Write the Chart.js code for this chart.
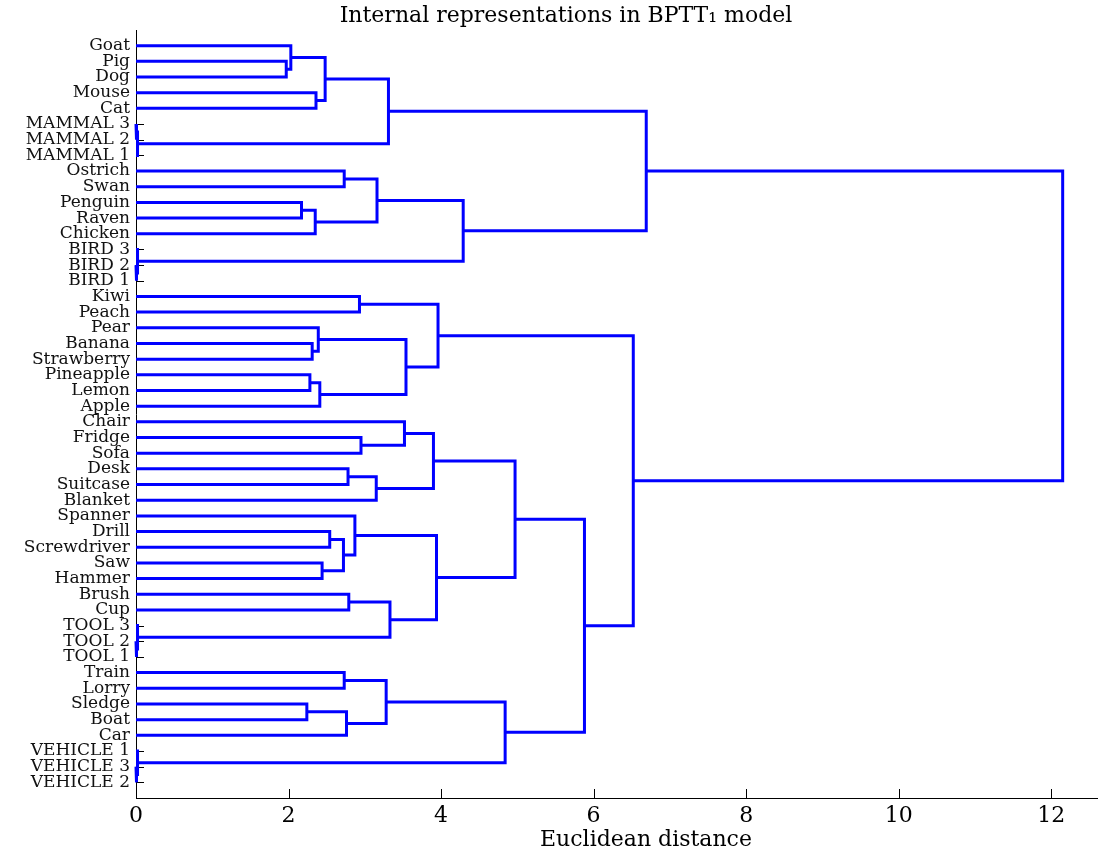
<!DOCTYPE html>
<html>
<head>
<meta charset="utf-8">
<script src="https://cdn.jsdelivr.net/npm/chart.js@4.4.0/dist/chart.umd.min.js"></script>
<style>
  html, body { margin: 0; padding: 0; background: #fff; }
  #wrap { width: 1099px; height: 854px; position: relative; }
</style>
</head>
<body>
<div id="wrap"><canvas id="c"></canvas></div>
<script>
// leaf order, top to bottom
const leaves = [
  'Goat', 'Pig', 'Dog', 'Mouse', 'Cat', 'MAMMAL 3', 'MAMMAL 2', 'MAMMAL 1',
  'Ostrich', 'Swan', 'Penguin', 'Raven', 'Chicken', 'BIRD 3', 'BIRD 2', 'BIRD 1',
  'Kiwi', 'Peach', 'Pear', 'Banana', 'Strawberry', 'Pineapple', 'Lemon', 'Apple',
  'Chair', 'Fridge', 'Sofa', 'Desk', 'Suitcase', 'Blanket',
  'Spanner', 'Drill', 'Screwdriver', 'Saw', 'Hammer', 'Brush', 'Cup', 'TOOL 3', 'TOOL 2', 'TOOL 1',
  'Train', 'Lorry', 'Sledge', 'Boat', 'Car', 'VEHICLE 1', 'VEHICLE 3', 'VEHICLE 2'
];

// merges: [left, right, distance]; a string is a leaf, a number is an earlier merge
const merges = [
  ['Pig', 'Dog', 1.97],            // 0
  ['Goat', 0, 2.03],               // 1
  ['Mouse', 'Cat', 2.36],          // 2
  [1, 2, 2.48],                    // 3
  ['MAMMAL 3', 'MAMMAL 2', 0.01],  // 4
  [4, 'MAMMAL 1', 0.02],           // 5
  [3, 5, 3.31],                    // 6
  ['Ostrich', 'Swan', 2.73],       // 7
  ['Penguin', 'Raven', 2.17],      // 8
  [8, 'Chicken', 2.35],            // 9
  [7, 9, 3.16],                    // 10
  ['BIRD 2', 'BIRD 1', 0.01],      // 11
  ['BIRD 3', 11, 0.02],            // 12
  [10, 12, 4.29],                  // 13
  [6, 13, 6.69],                   // 14
  ['Kiwi', 'Peach', 2.93],         // 15
  ['Banana', 'Strawberry', 2.31],  // 16
  ['Pear', 16, 2.39],              // 17
  ['Pineapple', 'Lemon', 2.28],    // 18
  [18, 'Apple', 2.41],             // 19
  [17, 19, 3.54],                  // 20
  [15, 20, 3.96],                  // 21
  ['Fridge', 'Sofa', 2.95],        // 22
  ['Chair', 22, 3.52],             // 23
  ['Desk', 'Suitcase', 2.78],      // 24
  [24, 'Blanket', 3.15],           // 25
  [23, 25, 3.90],                  // 26
  ['Drill', 'Screwdriver', 2.54],  // 27
  ['Saw', 'Hammer', 2.44],         // 28
  [27, 28, 2.72],                  // 29
  ['Spanner', 29, 2.87],           // 30
  ['Brush', 'Cup', 2.79],          // 31
  ['TOOL 2', 'TOOL 1', 0.01],      // 32
  ['TOOL 3', 32, 0.02],            // 33
  [31, 33, 3.33],                  // 34
  [30, 34, 3.94],                  // 35
  [26, 35, 4.97],                  // 36
  ['Train', 'Lorry', 2.73],        // 37
  ['Sledge', 'Boat', 2.24],        // 38
  [38, 'Car', 2.76],               // 39
  [37, 39, 3.28],                  // 40
  ['VEHICLE 3', 'VEHICLE 2', 0.01],// 41
  ['VEHICLE 1', 41, 0.02],         // 42
  [40, 42, 4.84],                  // 43
  [36, 43, 5.88],                  // 44
  [21, 44, 6.52],                  // 45
  [14, 45, 12.15]                  // 46
];

const xTicks = [0, 2, 4, 6, 8, 10, 12];
const titleText = 'Internal representations in BPTT\u2081 model';
const xTitleText = 'Euclidean distance';

// position (leaf row) and height of any node
const nodePos = [], nodeH = [];
function node(ref) {
  if (typeof ref === 'string') return { y: leaves.indexOf(ref) + 1, h: 0 };
  return { y: nodePos[ref], h: nodeH[ref] };
}
const datasets = merges.map(([a, b, h], i) => {
  const L = node(a), R = node(b);
  nodePos[i] = (L.y + R.y) / 2;
  nodeH[i] = h;
  return {
    data: [{ x: L.h, y: L.y }, { x: h, y: L.y }, { x: h, y: R.y }, { x: R.h, y: R.y }],
    showLine: true,
    borderColor: '#0000ff',
    borderWidth: 3,
    borderJoinStyle: 'miter',
    borderCapStyle: 'butt',
    pointRadius: 0,
    tension: 0,
    clip: false
  };
});

const FONT = "'DejaVu Serif', serif";

const decor = {
  id: 'decor',
  beforeDatasetsDraw(chart) {
    const { ctx, chartArea: a, scales: { x, y } } = chart;
    ctx.save();
    ctx.strokeStyle = '#000';
    ctx.lineWidth = 1;
    ctx.beginPath();
    y.ticks.forEach(t => {
      const py = Math.round(y.getPixelForValue(t.value)) + 0.5;
      ctx.moveTo(a.left, py); ctx.lineTo(a.left + 8, py);
    });
    x.ticks.forEach(t => {
      if (t.value === 0) return;
      const px = Math.round(x.getPixelForValue(t.value)) + 0.5;
      ctx.moveTo(px, a.bottom); ctx.lineTo(px, a.bottom - 9);
    });
    ctx.stroke();
    ctx.restore();
  },
  afterDraw(chart) {
    const { ctx } = chart;
    ctx.save();
    ctx.fillStyle = '#000';
    ctx.textAlign = 'center';
    ctx.textBaseline = 'middle';
    ctx.font = '22px ' + FONT;
    ctx.fillText(titleText, 566, 16);
    ctx.font = '22px ' + FONT;
    ctx.fillText(xTitleText, 646, 840);
    ctx.restore();
  }
};

new Chart(document.getElementById('c'), {
  type: 'scatter',
  data: { datasets },
  plugins: [decor],
  options: {
    responsive: true,
    maintainAspectRatio: false,
    animation: false,
    layout: { padding: { left: 0, right: 2, top: 30, bottom: 0 } },
    plugins: { legend: { display: false }, tooltip: { enabled: false }, title: { display: false } },
    scales: {
      x: {
        type: 'linear', min: 0, max: 12.6,
        afterBuildTicks: s => { s.ticks = xTicks.map(v => ({ value: v })); },
        afterFit: s => { s.height = 56; },
        grid: { display: false, drawTicks: false },
        border: { display: true, color: '#000', width: 1 },
        ticks: { color: '#000', font: { family: FONT, size: 22 }, padding: 5, maxRotation: 0 }
      },
      y: {
        type: 'linear', min: 0, max: 49, reverse: true,
        afterBuildTicks: s => { s.ticks = leaves.map((_, i) => ({ value: i + 1 })); },
        afterFit: s => { s.width = 136; },
        grid: { display: false, drawTicks: false },
        border: { display: true, color: '#000', width: 1 },
        ticks: {
          color: '#111', font: { family: FONT, size: 17 }, padding: 6, autoSkip: false,
          callback: v => leaves[v - 1]
        }
      }
    }
  }
});
</script>
</body>
</html>
